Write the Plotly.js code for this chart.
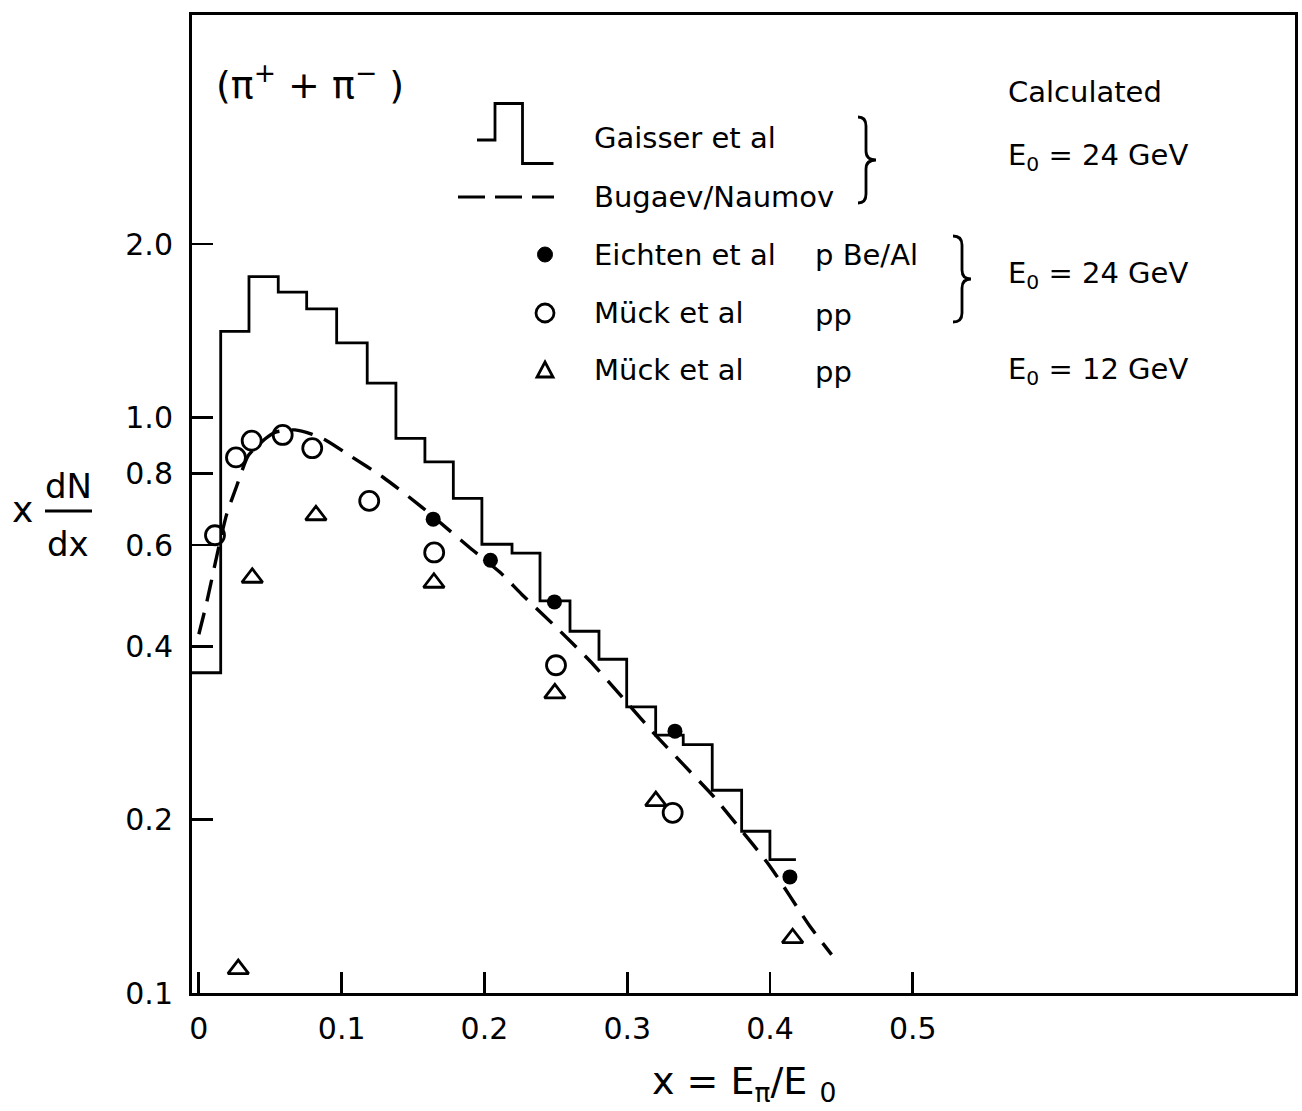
<!DOCTYPE html>
<html>
<head>
<meta charset="utf-8">
<script src="https://cdn.plot.ly/plotly-3.0.1.min.js"></script>
<style>html,body{margin:0;padding:0;background:#fff;}</style>
</head>
<body>
<div id="chart" style="width:1302px;height:1111px;"></div>
<script>
// ---- Data ----
// Gaisser et al histogram: bin edges and bin heights
const gaisserEdges = [-0.005, 0.0153, 0.0351, 0.0556, 0.0755, 0.0965, 0.1179, 0.138, 0.1583, 0.1782, 0.1982,
                      0.2193, 0.2389, 0.2599, 0.2802, 0.2996, 0.3199, 0.3392, 0.3595, 0.3801, 0.3999, 0.4181];
const gaisserHeights = [0.36, 1.41, 1.756, 1.65, 1.543, 1.347, 1.147, 0.919, 0.837, 0.723, 0.602,
                        0.581, 0.480, 0.425, 0.380, 0.314, 0.2805, 0.270, 0.225, 0.191, 0.1705];
// Bugaev/Naumov dashed curve
const bugaevX = [0.0, 0.0055, 0.0136, 0.0195, 0.0265, 0.0346, 0.0463, 0.0533, 0.0673, 0.079, 0.0895, 0.1058,
                 0.129, 0.155, 0.1758, 0.191, 0.2109, 0.226, 0.2506, 0.2739, 0.2949, 0.3182, 0.3392, 0.3602,
                 0.3766, 0.3999, 0.4279, 0.4431];
const bugaevY = [0.42, 0.477, 0.59, 0.679, 0.76, 0.858, 0.917, 0.942, 0.951, 0.935, 0.911, 0.858,
                 0.787, 0.702, 0.635, 0.59, 0.538, 0.493, 0.431, 0.3773, 0.33, 0.2833, 0.2495, 0.2198,
                 0.1962, 0.1661, 0.1306, 0.1166];
// Eichten et al (filled circles)
const eichtenX = [0.1641, 0.2042, 0.249, 0.3334, 0.4139];
const eichtenY = [0.6655, 0.5646, 0.478, 0.285, 0.1591];
// Mück et al, 24 GeV (open circles)
const muck24X = [0.0113, 0.026, 0.037, 0.0587, 0.0794, 0.1193, 0.1648, 0.2501, 0.3318];
const muck24Y = [0.624, 0.852, 0.911, 0.932, 0.884, 0.716, 0.5825, 0.371, 0.2056];
// Mück et al, 12 GeV (open triangles)
const muck12X = [0.0276, 0.0374, 0.082, 0.1646, 0.2493, 0.32, 0.4158];
const muck12Y = [0.110, 0.5265, 0.676, 0.516, 0.3316, 0.2154, 0.1245];

// Axis ticks
const xTickVals = [0, 0.1, 0.2, 0.3, 0.4, 0.5];
const xTickText = ['0', '0.1', '0.2', '0.3', '0.4', '0.5'];
const yTickVals = [0.1, 0.2, 0.4, 0.6, 0.8, 1.0, 2.0];
const yTickText = ['0.1', '0.2', '0.4', '0.6', '0.8', '1.0', '2.0'];

// ---- Layout helpers (pixel -> paper) ----
const L = 192, R = 1295, T = 15, B = 993;
function px(x) { return (x - L) / (R - L); }
function py(y) { return (B - y) / (B - T); }
function pathFrom(cmds) {
  return cmds.map(c => c[0] + (c.length > 1 ? ' ' + c.slice(1).map((v, i) => (i % 2 === 0 ? px(v) : py(v)).toFixed(5)).join(',') : '')).join(' ');
}
function bracePath(xl, xm, xt, y0, y1) {
  const ym = (y0 + y1) / 2;
  return pathFrom([
    ['M', xl, y0], ['Q', xm, y0, xm, y0 + 9], ['L', xm, ym - 9], ['Q', xm, ym, xt, ym],
    ['Q', xm, ym, xm, ym + 9], ['L', xm, y1 - 9], ['Q', xm, y1, xl, y1]
  ]);
}

const TXT = 'DejaVu Sans, Liberation Sans, sans-serif';
const NUM = 'DejaVu Sans, Liberation Sans, sans-serif';

const traces = [
  {
    x: gaisserEdges, y: gaisserHeights.concat([gaisserHeights[gaisserHeights.length - 1]]),
    mode: 'lines', line: {shape: 'hv', color: '#000', width: 2.8}, name: 'Gaisser et al', cliponaxis: true
  },
  {
    x: bugaevX, y: bugaevY, mode: 'lines',
    line: {shape: 'spline', smoothing: 0.6, color: '#000', width: 3.4, dash: '22px,12px'}, name: 'Bugaev/Naumov'
  },
  {
    x: muck24X, y: muck24Y, mode: 'markers', name: 'Mück et al 24',
    marker: {symbol: 'circle-open', size: 19, color: '#000', line: {width: 2.8, color: '#000'}}
  },
  {
    x: muck12X, y: muck12Y, mode: 'markers', name: 'Mück et al 12',
    marker: {symbol: 'triangle-up-open', size: 18, color: '#000', line: {width: 2.8, color: '#000'}}
  },
  {
    x: eichtenX, y: eichtenY, mode: 'markers', name: 'Eichten et al',
    marker: {symbol: 'circle', size: 15, color: '#000'}
  }
];

function ann(text, x, y, size, xanchor, family) {
  return {text: text, x: px(x), y: py(y), xref: 'paper', yref: 'paper', showarrow: false,
          xanchor: xanchor || 'left', yanchor: 'middle',
          font: {family: family || TXT, size: size, color: '#000'}};
}

const annotations = [
  ann('(π<sup>+</sup> + π<sup>−</sup> )', 214, 82, 38),
  ann('Gaisser et al', 592, 138, 29),
  ann('Bugaev/Naumov', 592, 197, 29),
  ann('Eichten et al', 592, 255, 29),
  ann('p Be/Al', 813, 255, 29),
  ann('Mück et al', 592, 313, 29),
  ann('pp', 813, 315, 29),
  ann('Mück et al', 592, 370, 29),
  ann('pp', 813, 372, 29),
  ann('Calculated', 1006, 92, 29),
  ann('E<sub>0</sub> = 24 GeV', 1006, 157, 29),
  ann('E<sub>0</sub> = 24 GeV', 1006, 275, 29),
  ann('E<sub>0</sub> = 12 GeV', 1006, 371, 29),
  ann('x', 22, 509, 36, 'center'),
  ann('dN', 68, 486, 34, 'center'),
  ann('dx', 68, 544, 34, 'center'),
  ann('x = E<sub>π</sub>/E <sub>0</sub>', 744, 1083, 38, 'center')
];

const shapes = [
  // legend: histogram step symbol
  {type: 'path', xref: 'paper', yref: 'paper',
   path: pathFrom([['M', 477, 140], ['L', 495, 140], ['L', 495, 103.5], ['L', 522.5, 103.5], ['L', 522.5, 163.5], ['L', 553.5, 163.5]]),
   line: {color: '#000', width: 2.8}},
  // legend: dashed line
  {type: 'line', xref: 'paper', yref: 'paper', x0: px(458), x1: px(554), y0: py(197), y1: py(197),
   line: {color: '#000', width: 3.2, dash: '27px,10px'}},
  // legend: filled circle
  {type: 'circle', xref: 'paper', yref: 'paper', x0: px(537.5), x1: px(552.5), y0: py(262), y1: py(247),
   fillcolor: '#000', line: {color: '#000', width: 1}},
  // legend: open circle
  {type: 'circle', xref: 'paper', yref: 'paper', x0: px(536), x1: px(554), y0: py(322), y1: py(304),
   line: {color: '#000', width: 2.8}},
  // legend: triangle
  {type: 'path', xref: 'paper', yref: 'paper',
   path: pathFrom([['M', 537, 377], ['L', 553, 377], ['L', 545, 362], ['Z']]),
   line: {color: '#000', width: 2.8}},
  // braces
  {type: 'path', xref: 'paper', yref: 'paper', path: bracePath(858, 866, 876, 117, 203),
   line: {color: '#000', width: 2.8}},
  {type: 'path', xref: 'paper', yref: 'paper', path: bracePath(953, 962, 971, 236, 322),
   line: {color: '#000', width: 2.8}},
  // y title fraction bar
  {type: 'line', xref: 'paper', yref: 'paper', x0: px(45), x1: px(92), y0: py(511), y1: py(511),
   line: {color: '#000', width: 3}}
];

const layout = {
  width: 1302, height: 1111,
  margin: {l: L, r: 1302 - R, t: T, b: 1111 - B, pad: 0},
  paper_bgcolor: '#fff', plot_bgcolor: '#fff',
  showlegend: false,
  xaxis: {
    range: [-0.0048, 0.7676], tickmode: 'array', tickvals: xTickVals, ticktext: xTickText,
    ticks: 'inside', ticklen: 21, tickwidth: 2.8, tickcolor: '#000',
    showline: true, linewidth: 3, linecolor: '#000', mirror: true,
    showgrid: false, zeroline: false, ticklabelstandoff: 7,
    tickfont: {family: NUM, size: 30, color: '#000'}
  },
  yaxis: {
    type: 'log', range: [-1, Math.log10(5.0)], tickmode: 'array', tickvals: yTickVals, ticktext: yTickText,
    ticks: 'inside', ticklen: 21, tickwidth: 2.8, tickcolor: '#000',
    showline: true, linewidth: 3, linecolor: '#000', mirror: true,
    showgrid: false, zeroline: false, ticklabelstandoff: 10,
    tickfont: {family: NUM, size: 30, color: '#000'}
  },
  annotations: annotations,
  shapes: shapes
};

Plotly.newPlot('chart', traces, layout, {displayModeBar: false, staticPlot: true});
</script>
</body>
</html>
